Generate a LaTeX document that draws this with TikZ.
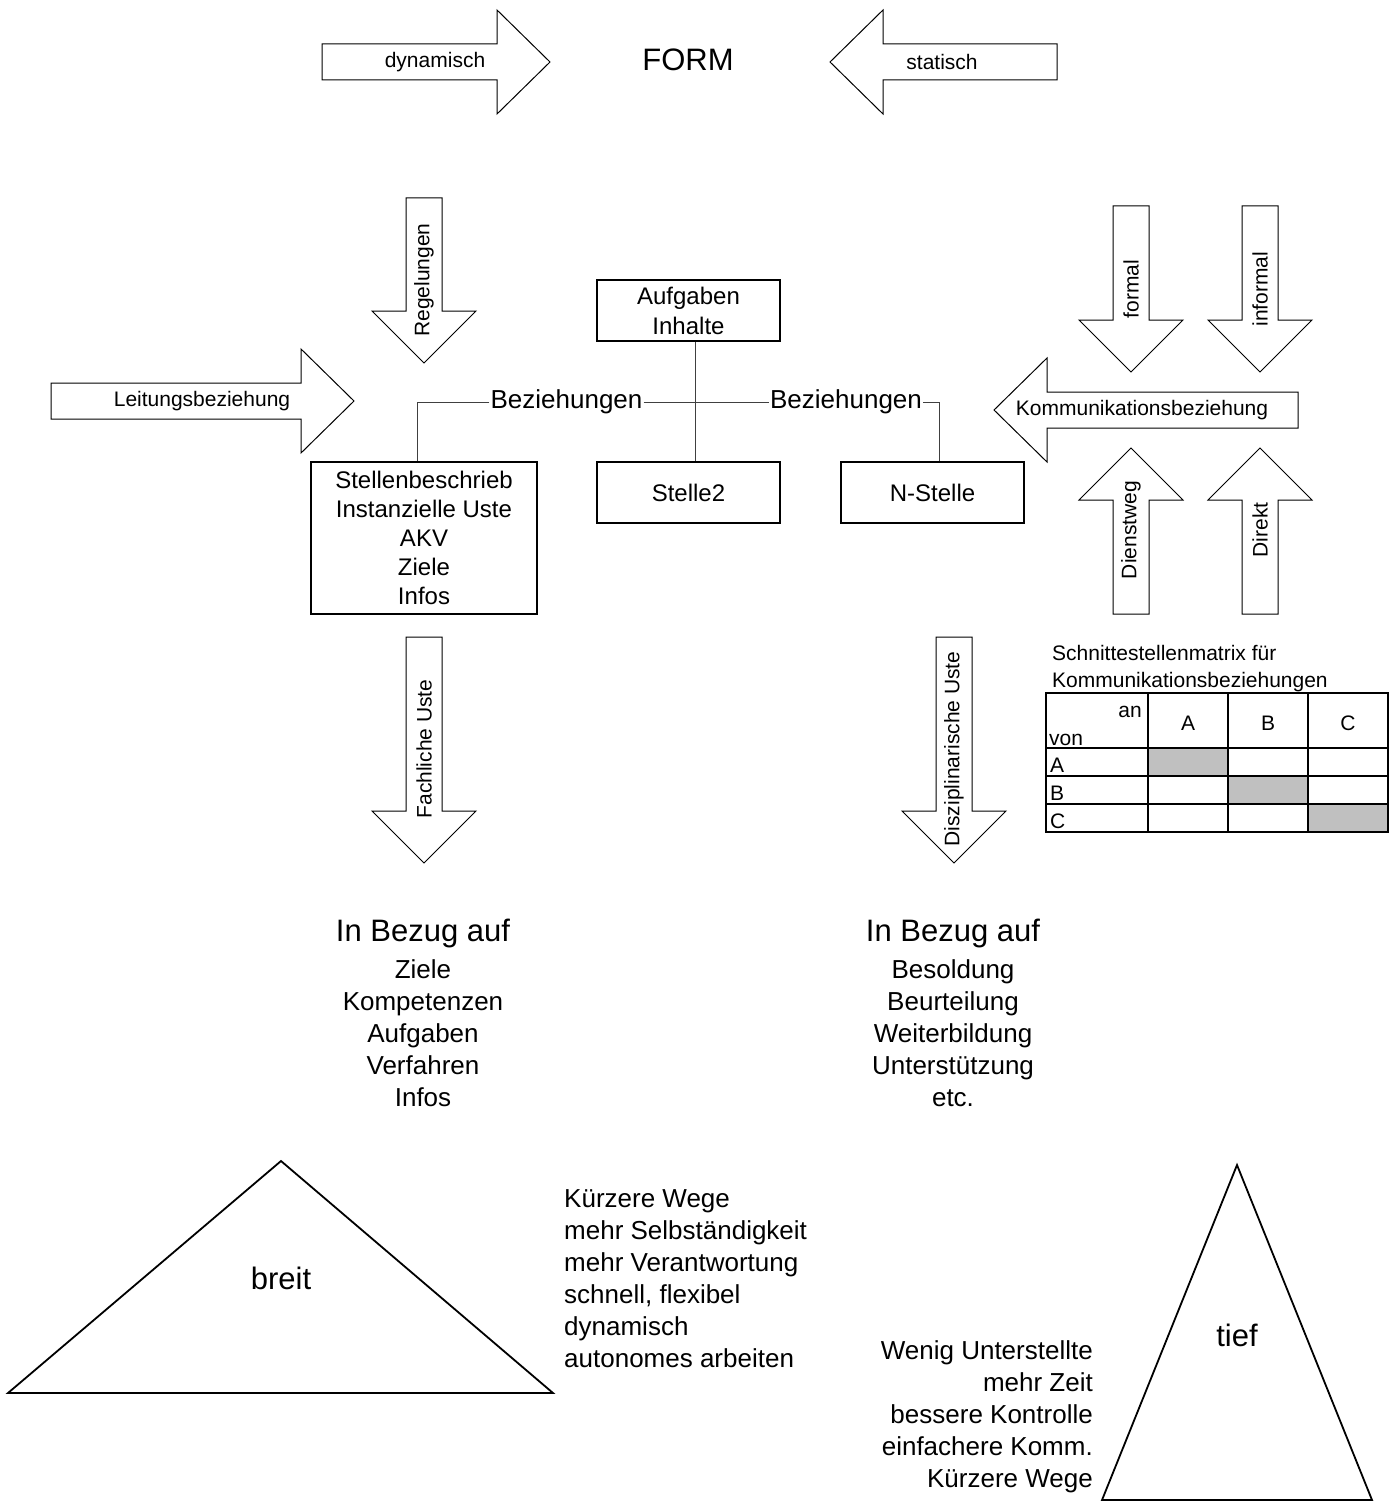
\documentclass[tikz,border=0pt]{standalone}
\usepackage{fontspec}
\setmainfont{Liberation Sans}
\newcommand\fsz[2]{\fontsize{#1}{#2}\selectfont}
\definecolor{cellgray}{HTML}{C0C0C0}
\tikzset{
  barrow/.style={draw=black, line width=1pt, fill=white, line join=miter},
  lbl/.style={inner sep=0pt, font=\fsz{21}{24}},
  rlbl/.style={lbl, rotate=90},
  boxnode/.style={draw=black, line width=1.8pt, fill=white, align=center, inner sep=0pt, font=\fsz{24}{30}},
  conn/.style={draw=black!75, line width=1pt},
  tri/.style={draw=black, line width=1.8pt, line join=miter},
  listtext/.style={inner sep=0pt, font=\fsz{26}{32}},
  bigtext/.style={inner sep=0pt, font=\fsz{31}{36}},
  tbl/.style={draw=black, line width=1.8pt},
  tbltext/.style={inner sep=0pt, font=\fsz{21}{24}},
}
% block arrows: down/up: centre x, tail y, apex y ; right/left: centre y, tail x, apex x
\newcommand\blockdown[3]{\draw[barrow] ({#1-18},#2) -- ({#1+18},#2) -- ({#1+18},{#3-52}) -- ({#1+52},{#3-52}) -- (#1,#3) -- ({#1-52},{#3-52}) -- ({#1-18},{#3-52}) -- cycle;}
\newcommand\blockup[3]{\draw[barrow] ({#1-18},#2) -- ({#1+18},#2) -- ({#1+18},{#3+52}) -- ({#1+52},{#3+52}) -- (#1,#3) -- ({#1-52},{#3+52}) -- ({#1-18},{#3+52}) -- cycle;}
\newcommand\blockright[3]{\draw[barrow] (#2,{#1-18}) -- ({#3-53},{#1-18}) -- ({#3-53},{#1-52}) -- (#3,#1) -- ({#3-53},{#1+52}) -- ({#3-53},{#1+18}) -- (#2,{#1+18}) -- cycle;}
\newcommand\blockleft[3]{\draw[barrow] (#2,{#1-18}) -- ({#3+53},{#1-18}) -- ({#3+53},{#1-52}) -- (#3,#1) -- ({#3+53},{#1+52}) -- ({#3+53},{#1+18}) -- (#2,{#1+18}) -- cycle;}
\begin{document}
\begin{tikzpicture}[x=1pt,y=-1pt]
\useasboundingbox (0,0) rectangle (1395,1506);
\fill[white] (0,0) rectangle (1395,1506);

% ---------- top: FORM ----------
\blockright{62}{322}{550}
\node[lbl] (dyn) at (435,62) {dynamisch};
\node[bigtext] (form) at (688,60) {FORM};
\blockleft{62}{1057}{830}
\node[lbl] (stat) at (942,62) {statisch};

% ---------- arrows around the boxes ----------
\blockdown{424}{198}{363}
\node[rlbl] (regel) at (424,280) {Regelungen};
\blockright{401}{51}{354}
\node[lbl] (leit) at (202,401) {Leitungsbeziehung};

\blockdown{1131}{206}{372}
\node[rlbl] (formal) at (1131,289) {formal};
\blockdown{1260}{206}{372}
\node[rlbl] (informal) at (1260,289) {informal};
\blockleft{410}{1298}{994}
\node[lbl] (komm) at (1142,410) {Kommunikationsbeziehung};
\blockup{1131}{614}{448}
\node[rlbl] (dienst) at (1131,530) {Dienstweg};
\blockup{1260}{614}{448}
\node[rlbl] (direkt) at (1260,530) {Direkt};

\blockdown{424}{637}{863}
\node[rlbl] (fach) at (424,749) {Fachliche Uste};
\blockdown{954}{637}{863}
\node[rlbl] (diszi) at (954,749) {Disziplinarische Uste};

% ---------- boxes ----------
\node[boxnode, minimum width=183, minimum height=61] (aufg) at (688.5,310.5) {Aufgaben\\Inhalte};
\node[boxnode, minimum width=183, minimum height=61] (stelle2) at (688.5,492.5) {Stelle2};
\node[boxnode, minimum width=183, minimum height=61] (nstelle) at (932.5,492.5) {N-Stelle};
\node[boxnode, font=\fsz{24}{29}, minimum width=226, minimum height=152] (stellenb) at (424,538)
  {Stellenbeschrieb\\Instanzielle Uste\\AKV\\Ziele\\Infos};

\node[inner sep=1pt, font=\fsz{26}{30}] (bezL) at (566.5,402) {Beziehungen};
\node[inner sep=1pt, font=\fsz{26}{30}] (bezR) at (846,402) {Beziehungen};

\draw[conn] ([xshift=6.5]aufg.south) -- ([xshift=6.5]stelle2.north);
\draw[conn] (bezL.east) -- (bezR.west);
\draw[conn] (bezL.west) -| ([xshift=-7]stellenb.north);
\draw[conn] (bezR.east) -| ([xshift=6.5]nstelle.north);

% ---------- matrix ----------
\node[tbltext, anchor=base west] (mt1) at (1052,660) {Schnittestellenmatrix für};
\node[tbltext, anchor=base west] (mt2) at (1052,687) {Kommunikationsbeziehungen};
\fill[cellgray] (1148,748) rectangle (1228,776);
\fill[cellgray] (1228,776) rectangle (1308,804);
\fill[cellgray] (1308,804) rectangle (1388,832);
\draw[tbl] (1046,693) rectangle (1388,832);
\draw[tbl] (1046,748) -- (1388,748);
\draw[tbl] (1046,776) -- (1388,776);
\draw[tbl] (1046,804) -- (1388,804);
\draw[tbl] (1148,693) -- (1148,832);
\draw[tbl] (1228,693) -- (1228,832);
\draw[tbl] (1308,693) -- (1308,832);
\node[tbltext, anchor=base east] (an) at (1142,717) {an};
\node[tbltext, anchor=base west] (von) at (1049,745) {von};
\node[tbltext, anchor=base] (hA) at (1188,730) {A};
\node[tbltext, anchor=base] (hB) at (1268,730) {B};
\node[tbltext, anchor=base] (hC) at (1348,730) {C};
\node[tbltext, anchor=base west] (rA) at (1050,772) {A};
\node[tbltext, anchor=base west] (rB) at (1050,800) {B};
\node[tbltext, anchor=base west] (rC) at (1050,828) {C};

% ---------- In Bezug auf ----------
\node[bigtext] (bezugL) at (423,933) {In Bezug auf};
\node[listtext, anchor=base] (listL) at (423,978)
  {\begin{tabular}[t]{@{}c@{}}Ziele\\Kompetenzen\\Aufgaben\\Verfahren\\Infos\end{tabular}};
\node[bigtext] (bezugR) at (953,933) {In Bezug auf};
\node[listtext, anchor=base] (listR) at (953,978)
  {\begin{tabular}[t]{@{}c@{}}Besoldung\\Beurteilung\\Weiterbildung\\Unterstützung\\etc.\end{tabular}};

% ---------- triangles ----------
\draw[tri] (281,1161) -- (553,1393) -- (8,1393) -- cycle;
\node[bigtext] (breit) at (281,1278) {breit};
\node[listtext, anchor=base west] (breitlist) at (564,1207)
  {\begin{tabular}[t]{@{}l@{}}Kürzere Wege\\mehr Selbständigkeit\\mehr Verantwortung\\schnell, flexibel\\dynamisch\\autonomes arbeiten\end{tabular}};

\draw[tri] (1237,1165) -- (1372,1500) -- (1102,1500) -- cycle;
\node[bigtext] (tief) at (1237,1335) {tief};
\node[listtext, anchor=base east] (tieflist) at (1093,1359)
  {\begin{tabular}[t]{@{}r@{}}Wenig Unterstellte\\mehr Zeit\\bessere Kontrolle\\einfachere Komm.\\Kürzere Wege\end{tabular}};
\end{tikzpicture}
\end{document}
